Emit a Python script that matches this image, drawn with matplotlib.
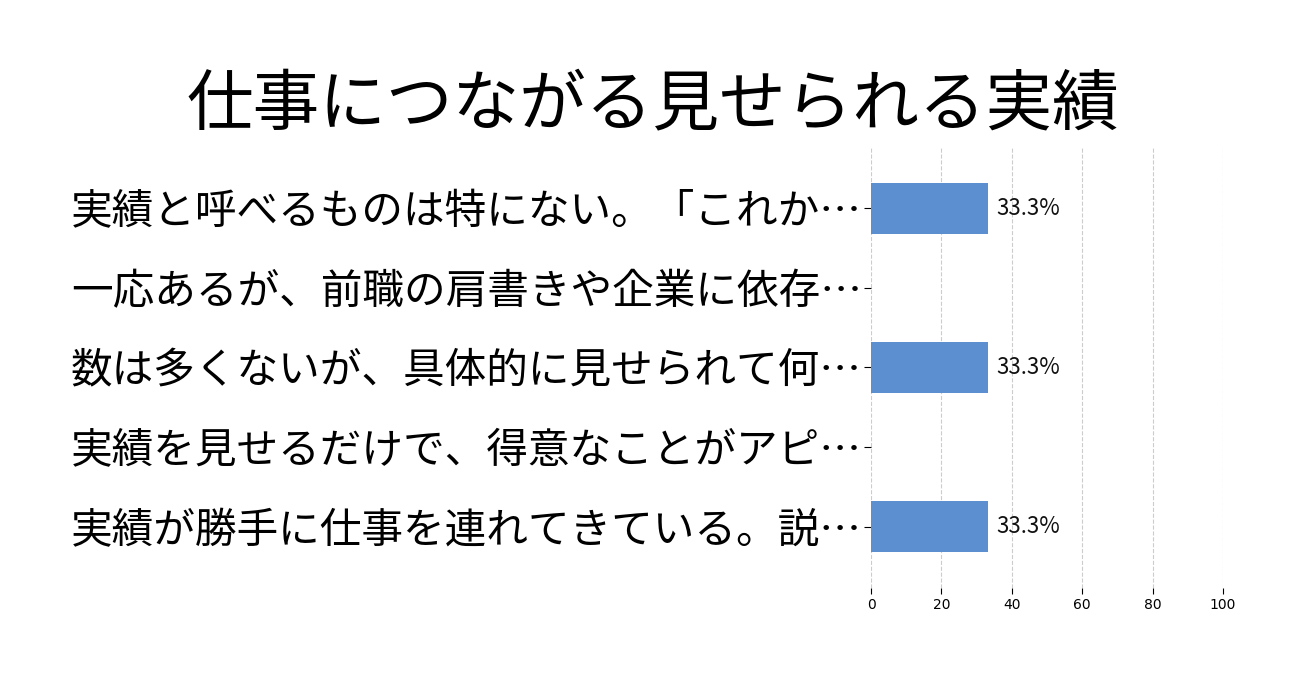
import matplotlib
matplotlib.use("Agg")
import matplotlib.pyplot as plt

plt.rcParams['font.family'] = ['Noto Sans CJK JP', 'DejaVu Sans']

title = "仕事につながる見せられる実績"
categories = [
    "実績と呼べるものは特にない。「これか…",
    "一応あるが、前職の肩書きや企業に依存…",
    "数は多くないが、具体的に見せられて何…",
    "実績を見せるだけで、得意なことがアピ…",
    "実績が勝手に仕事を連れてきている。説…",
]
values = [33.3, 0, 33.3, 0, 33.3]
xticks = [0, 20, 40, 60, 80, 100]

fig = plt.figure(figsize=(13.06, 6.83), dpi=100)
ax = fig.add_axes([0.667, 0.139, 0.2695, 0.646])

ypos = list(range(len(categories)))
ax.barh(ypos, values, height=0.64, color="#5b8fcf", zorder=3)
for y, v in zip(ypos, values):
    if v > 0:
        ax.text(v + 2.2, y, f"{v:.1f}%", va="center", ha="left", fontsize=16, color="#111111")

ax.set_yticks(ypos)
ax.set_yticklabels(categories, fontsize=30)
ax.set_ylim(len(categories) - 1 + 0.77, -0.77)
ax.set_xlim(0, 100)
ax.set_xticks(xticks)
ax.set_xticklabels([str(t) for t in xticks], family="DejaVu Sans")
ax.tick_params(axis="x", labelsize=10, length=4, pad=3)
ax.tick_params(axis="y", length=5, pad=1.7)
for s in ax.spines.values():
    s.set_visible(False)
ax.grid(axis="x", linestyle="--", color="#cccccc", linewidth=0.8, zorder=0)
ax.set_axisbelow(True)

fig.text(0.5, 0.845, title, ha="center", va="center", fontsize=48)

fig.savefig("out.png", dpi=100)
